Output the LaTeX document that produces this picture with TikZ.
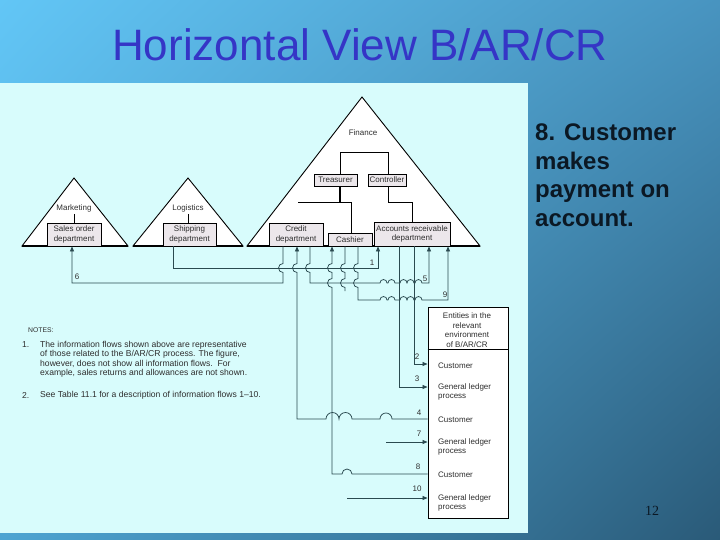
\documentclass[tikz,border=0pt]{standalone}
\usepackage{fontspec}
\setmainfont{Liberation Sans}
\newfontfamily\numfont{Liberation Serif}
\usetikzlibrary{arrows.meta,shadings}
\definecolor{bgcyan}{HTML}{D8FCFC}
\definecolor{boxgray}{HTML}{ECE7EB}
\definecolor{flowc}{HTML}{2A4A50}
\definecolor{figtext}{HTML}{2E2E2E}
\definecolor{titleblue}{HTML}{3535C6}
\definecolor{slidetext}{HTML}{0B1824}
\definecolor{bgul}{HTML}{62C6F6}
\definecolor{bgur}{HTML}{4894C0}
\definecolor{bgll}{HTML}{4EA4D2}
\definecolor{bglr}{HTML}{2A5A78}
\newcommand\figfont{\fontsize{8}{9.6}\selectfont}
\newcommand\notefont{\fontsize{8.6}{9.6}\selectfont}
\tikzset{
  tri/.style={draw=black, line width=0.9pt, fill=white, line join=miter},
  baseline/.style={draw=black, line width=1.5pt},
  unit/.style={draw=black, line width=0.8pt, fill=boxgray, inner sep=0pt, align=center, font=\figfont, text=figtext},
  lbl/.style={font=\figfont, inner sep=0pt, text=figtext},
  note/.style={font=\notefont, inner sep=0pt, text=figtext, anchor=west},
  orgline/.style={draw=black, line width=0.9pt},
  flow/.style={draw=flowc, line width=0.75pt},
  arr/.style={flow, -{Triangle[length=5pt,width=4pt]}},
  bigtext/.style={font=\fontsize{24}{28}\selectfont\bfseries, text=slidetext, inner sep=0pt, anchor=base west},
}
\begin{document}
\begin{tikzpicture}[x=1pt,y=-1pt]
\useasboundingbox (0,0) rectangle (720,540);
% slide background
\shade[upper left=bgul, upper right=bgur, lower left=bgll, lower right=bglr] (0,0) rectangle (720,540);
\fill[bgcyan] (0,83) rectangle (528,533);
% title
\node[font=\fontsize{44}{48}\selectfont, text=titleblue, anchor=base, inner sep=0pt] (title) at (360,61) {Horizontal View B/AR/CR};
% right text
\node[bigtext] (t1) at (535,141) {8. Customer};
\node[bigtext] (t2) at (535,169.5) {makes};
\node[bigtext] (t3) at (535,198) {payment on};
\node[bigtext] (t4) at (535,226.5) {account.};
\node[font=\numfont\fontsize{14}{16}\selectfont, text=slidetext, inner sep=0pt] (pnum) at (652,511) {12};

% triangles
\draw[tri] (22,246) -- (74,178) -- (128,246) -- cycle;
\draw[tri] (133,246) -- (188,178) -- (243,246) -- cycle;
\draw[tri] (247,246) -- (362,97) -- (480,246) -- cycle;
\draw[baseline] (22,246) -- (128,246);
\draw[baseline] (133,246) -- (243,246);
\draw[baseline] (247,246) -- (480,246);

\node[lbl] (mkt) at (74,208) {Marketing};
\node[lbl] (log) at (188,208) {Logistics};
\node[lbl] (fin) at (363,133) {Finance};

\node[unit, minimum width=54pt, minimum height=23pt] (sales) at (74,234.5) {Sales order\\department};
\node[unit, minimum width=53pt, minimum height=23pt] (ship) at (189.5,234.5) {Shipping\\department};
\node[unit, minimum width=54pt, minimum height=23pt] (credit) at (296,234.5) {Credit\\department};
\node[unit, minimum width=44pt, minimum height=13pt] (cashier) at (350,239.5) {Cashier};
\node[unit, minimum width=76pt, minimum height=24pt] (ar) at (412,234) {Accounts receivable\\department};
\node[unit, minimum width=43pt, minimum height=12pt] (treas) at (335.5,180) {Treasurer};
\node[unit, minimum width=38pt, minimum height=12pt] (ctrl) at (387,180) {Controller};

% organisation lines
\draw[orgline] (mkt.south |- 0,214) -- (74,0 |- sales.north);
\draw[orgline] (log.south |- 0,214) -- (188,0 |- ship.north);
\draw[orgline] (340,0 |- treas.north) -- (340,152) -- (388,152) -- (388,0 |- ctrl.north);
\draw[orgline, line width=1.4pt] (340,0 |- treas.south) -- (340,202);
\draw[orgline] (298,202) -- (351,202) -- (351,0 |- cashier.north);
\draw[orgline] (388,0 |- ctrl.south) -- (388,202) -- (412,202) -- (412,0 |- ar.north);

% entities box
\node[draw=black, line width=0.9pt, fill=white, minimum width=80pt, minimum height=211pt, inner sep=0pt] (ent) at (468,412.5) {};
\draw[black, line width=0.9pt] (ent.west |- 0,349) -- (ent.east |- 0,349);
\node[lbl, align=center] (enthead) at (467,330) {Entities in the\\relevant\\environment\\of B/AR/CR};
\node[lbl, anchor=west] (cust2) at (438,366) {Customer};
\node[lbl, anchor=west, align=left] (gl3) at (438,392) {General ledger\\process};
\node[lbl, anchor=west] (cust4) at (438,420) {Customer};
\node[lbl, anchor=west, align=left] (gl7) at (438,447) {General ledger\\process};
\node[lbl, anchor=west] (cust8) at (438,475) {Customer};
\node[lbl, anchor=west, align=left] (gl10) at (438,503) {General ledger\\process};

% flows
% 1: shipping -> AR
\draw[arr] (173,0 |- ship.south) -- (173,268) -- (378,268) -- (378,0 |- ar.south);
% 6: credit -> sales order
\draw[arr] (283,0 |- credit.south) -- (283,263.5) arc[start angle=-90,end angle=-270,radius=4.5] -- (283,283) -- (72,283) -- (72,0 |- sales.south);
% 5: credit -> AR
\draw[arr] (310,0 |- credit.south) -- (310,263.5) arc[start angle=-90,end angle=-270,radius=4.5] -- (310,283)
  -- (380,283) arc[start angle=180,end angle=360,radius=3.5] -- (388,283) arc[start angle=180,end angle=360,radius=3.5]
  -- (400,283) arc[start angle=180,end angle=360,radius=3.5] -- (407,283) arc[start angle=180,end angle=360,radius=3.5]
  -- (415,283) arc[start angle=180,end angle=360,radius=3.5] -- (429,283) -- (429,0 |- ar.south);
% 9: cashier -> AR
\draw[arr] (358,0 |- cashier.south) -- (358,263.5) arc[start angle=-90,end angle=-270,radius=4.5] -- (358,278.5) arc[start angle=-90,end angle=-270,radius=4.5] -- (358,300)
  -- (380,300) arc[start angle=180,end angle=360,radius=3.5] -- (388,300) arc[start angle=180,end angle=360,radius=3.5]
  -- (400,300) arc[start angle=180,end angle=360,radius=3.5] -- (407,300) arc[start angle=180,end angle=360,radius=3.5]
  -- (415,300) arc[start angle=180,end angle=360,radius=3.5] -- (448,300) -- (448,0 |- ar.south);
% partial line below cashier
\draw[flow] (345,0 |- cashier.south) -- (345,263.5) arc[start angle=-90,end angle=-270,radius=4.5] -- (345,278.5) arc[start angle=-90,end angle=-270,radius=4.5] -- (345,291);
% 2: AR -> customer
\draw[arr] (414,0 |- ar.south) -- (414,364) -- (ent.west |- 0,364);
% 3: AR -> GL
\draw[arr] (399,0 |- ar.south) -- (399,387) -- (ent.west |- 0,387);
% 4: customer -> credit
\draw[arr] (ent.west |- 0,419) -- (392,419) arc[start angle=0,end angle=-180,radius=6] -- (352,419)
  arc[start angle=0,end angle=-180,radius=6.5] -- (339,419) arc[start angle=0,end angle=-180,radius=6.5]
  -- (297,419) -- (297,272.5) arc[start angle=90,end angle=270,radius=4.5] -- (297,0 |- credit.south);
% 8: customer -> cashier
\draw[arr] (ent.west |- 0,474) -- (352,474) arc[start angle=0,end angle=-180,radius=5] -- (332,474)
  -- (332,287.5) arc[start angle=90,end angle=270,radius=4.5] -- (332,272.5) arc[start angle=90,end angle=270,radius=4.5] -- (332,0 |- cashier.south);
% 7 and 10
\coordinate (f7) at (386,442);
\coordinate (f10) at (347,498);
\draw[arr] (f7) -- (ent.west |- f7);
\draw[arr] (f10) -- (ent.west |- f10);

% flow labels
\node[lbl] (n1) at (372,263) {1};
\node[lbl] (n5) at (425,279) {5};
\node[lbl] (n9) at (445,295) {9};
\node[lbl] (n6) at (77,277) {6};
\node[lbl] (n2) at (417,357) {2};
\node[lbl] (n3) at (417,379) {3};
\node[lbl] (n4) at (419,413) {4};
\node[lbl] (n7) at (419,434) {7};
\node[lbl] (n8) at (418,467) {8};
\node[lbl] (n10) at (417,489) {10};

% notes
\node[note, font=\fontsize{6.8}{8}\selectfont] (notes) at (28,330) {NOTES:};
\node[note] (no1) at (22,345) {1.};
\node[note] (l1) at (40,345) {The information flows shown above are representative};
\node[note] (l2) at (40,354.5) {of those related to the B/AR/CR process. The figure,};
\node[note] (l3) at (40,364) {however, does not show all information flows.\ \ For};
\node[note] (l4) at (40,373.5) {example, sales returns and allowances are not shown.};
\node[note] (no2) at (22,395) {2.};
\node[note] (l5) at (40,395) {See Table 11.1 for a description of information flows 1--10.};
\end{tikzpicture}
\end{document}
